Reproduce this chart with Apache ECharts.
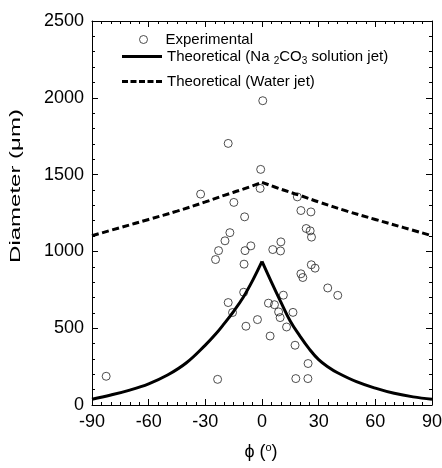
<!DOCTYPE html>
<html>
<head>
<meta charset="utf-8">
<script src="https://cdn.jsdelivr.net/npm/echarts@6/dist/echarts.min.js"></script>
<style>
  html, body { margin: 0; padding: 0; background: #fff; }
  #chart { width: 442px; height: 468px; }
</style>
</head>
<body>
<div id="chart"></div>
<script>
// Measured droplet diameters vs. angle
const expPhi = [-82.5, -32.5, -24.6, -23.0, -23.5, -19.6, -17.9, -17.9, -17.0, -15.6, -14.9, -9.7,
  -9.5, -9.2, -9.0, -8.5, -5.9, -2.4, -1.0, -0.7, 0.4, 3.4, 4.3, 5.7, 6.6, 8.8, 9.6, 9.8, 10.0,
  11.3, 13.0, 16.4, 17.5, 17.9, 18.7, 20.6, 20.6, 21.6, 23.4, 24.3, 24.4, 25.5, 25.9, 26.1, 26.2,
  28.1, 34.8, 40.1];
const expDiameter = [187, 1373, 947, 1005, 167, 1069, 1703, 667, 1122, 602, 1319, 734,
  917, 1225, 1005, 513, 1036, 556, 1410, 1534, 1981, 663, 449, 1012, 653, 606, 569, 1003, 1062,
  715, 508, 603, 389, 172, 1355, 1266, 854, 830, 1149, 172, 270, 1134, 1257, 913, 1093,
  891, 762, 714];

// Theoretical curve, Na2CO3 solution jet (two branches meeting at the cusp)
const naPhiLeft = [-90, -80, -70, -60, -50, -40, -30, -25, -20, -15, -10, -5, 0];
const naLeft = [38, 65, 97, 138, 195, 275, 390, 455, 530, 610, 700, 810, 935];
const naPhiRight = [0, 5, 10, 15, 20, 25, 30, 35, 40, 50, 60, 70, 80, 90];
const naRight = [935, 800, 670, 545, 450, 365, 295, 248, 210, 152, 110, 76, 53, 38];

// Theoretical curve, water jet
const waterPhiLeft = [-90, -75, -60, -45, -30, -20, -10, 0];
const waterLeft = [1102, 1155, 1208, 1262, 1322, 1365, 1405, 1450];
const waterPhiRight = [0, 10, 20, 30, 45, 60, 75, 90];
const waterRight = [1450, 1405, 1365, 1322, 1262, 1208, 1155, 1102];

// Axis ranges and tick spacing
const xTicks = { min: -90, max: 90, step: 30, minorSplit: 6 };
const yTicks = { min: 0, max: 2500, step: 500, minorSplit: 5 };

const FONT = 'Liberation Sans, Arial, Helvetica, sans-serif';
const NA_NAME = 'Theoretical (Na2CO3 solution jet)';
const WATER_NAME = 'Theoretical (Water jet)';
const EXP_NAME = 'Experimental';

const zip = (xs, ys) => xs.map((x, i) => [x, ys[i]]);

// Frame axis: all four sides carry inward major and minor ticks
function frameAxis(kind, position, showLabels) {
  const t = kind === 'x' ? xTicks : yTicks;
  return {
    type: 'value', position: position, z: 10,
    min: t.min, max: t.max, interval: t.step,
    axisLine: { show: true, onZero: false, lineStyle: { color: '#000', width: 1 } },
    axisTick: { show: true, inside: true, length: 6, lineStyle: { color: '#000', width: 1 } },
    minorTick: { show: true, splitNumber: t.minorSplit, length: 3, lineStyle: { color: '#000', width: 1 } },
    splitLine: { show: false },
    axisLabel: {
      show: showLabels, color: '#000', fontFamily: FONT, fontSize: 18,
      formatter: v => String(v)
    }
  };
}

const chart = echarts.init(document.getElementById('chart'));

const textBase = {
  color: '#000', fontFamily: FONT, fontSize: 15,
  rich: { sub: { fontFamily: FONT, fontSize: 10, color: '#000', padding: [9, 0, 0, 0] } }
};
const legendBase = {
  orient: 'vertical', padding: 0, itemWidth: 40, itemHeight: 3,
  textStyle: textBase,
  formatter: function (name) {
    return name === NA_NAME ? 'Theoretical (Na {sub|2}CO{sub|3} solution jet)' : name;
  }
};

const SOLID_ICON = 'path://M0,0H40V3H0Z';
const DASH_ICON = 'path://M0,0h6v3h-6z M8.5,0h6v3h-6z M17,0h6v3h-6z M25.5,0h6v3h-6z M34,0h6v3h-6z';

const option = {
  animation: false,
  grid: { left: 92, right: 10, top: 21, bottom: 63, outerBoundsMode: 'none' },
  xAxis: [frameAxis('x', 'bottom', true), frameAxis('x', 'top', false)],
  yAxis: [frameAxis('y', 'left', true), frameAxis('y', 'right', false)],
  legend: [
    Object.assign({}, legendBase, {
      left: 139, top: 32, itemWidth: 8, itemHeight: 8,
      textStyle: Object.assign({}, textBase, { padding: [0, 0, 0, 13] }),
      data: [{ name: EXP_NAME, icon: 'circle',
               itemStyle: { color: 'rgba(0,0,0,0)', borderColor: '#222', borderWidth: 1 } }]
    }),
    Object.assign({}, legendBase, { left: 122, top: 49,
      data: [{ name: NA_NAME, icon: SOLID_ICON, itemStyle: { color: '#000' } }] }),
    Object.assign({}, legendBase, { left: 122, top: 74,
      data: [{ name: WATER_NAME, icon: DASH_ICON, itemStyle: { color: '#000' } }] })
  ],
  graphic: [
    {
      // y-axis title, drawn stretched along its length
      type: 'text', x: 16, y: 186, rotation: Math.PI / 2, scaleX: 1.6,
      style: { text: 'Diameter (μm)', font: '15px ' + FONT, fill: '#000',
               align: 'center', verticalAlign: 'middle' }
    },
    {
      // x-axis title
      type: 'text', x: 261, y: 452,
      style: {
        text: 'ϕ ({sup|o})', font: '18px ' + FONT, fill: '#000',
        align: 'center', verticalAlign: 'middle',
        rich: { sup: { fontFamily: FONT, fontSize: 11, fill: '#000', padding: [0, 0, 9, 0] } }
      }
    }
  ],
  series: [
    { name: NA_NAME, type: 'line', smooth: 0.4, symbol: 'none', data: zip(naPhiLeft, naLeft),
      lineStyle: { color: '#000', width: 3 }, itemStyle: { color: '#000' } },
    { name: NA_NAME, type: 'line', smooth: 0.4, symbol: 'none', data: zip(naPhiRight, naRight),
      lineStyle: { color: '#000', width: 3 }, itemStyle: { color: '#000' } },
    { name: WATER_NAME, type: 'line', smooth: 0.4, symbol: 'none', data: zip(waterPhiLeft, waterLeft),
      lineStyle: { color: '#000', width: 3, type: [7, 3.5] }, itemStyle: { color: '#000' } },
    { name: WATER_NAME, type: 'line', smooth: 0.4, symbol: 'none', data: zip(waterPhiRight, waterRight),
      lineStyle: { color: '#000', width: 3, type: [7, 3.5] }, itemStyle: { color: '#000' } },
    { name: EXP_NAME, type: 'scatter', symbol: 'circle', symbolSize: 8,
      data: zip(expPhi, expDiameter),
      itemStyle: { color: 'rgba(0,0,0,0)', borderColor: '#222', borderWidth: 1 } }
  ]
};

chart.setOption(option);

// Keep the axis lines and tick marks painted above everything else
function raiseAxisStrokes() {
  const zr = chart.getZr();
  let changed = false;
  function visit(el) {
    if (el.type === 'line' && !el.__raised) {
      el.__raised = true;
      el.ignore = false;
      el.invisible = false;
      el.z = 100;
      el.z2 = 100;
      if (el.removeClipPath) el.removeClipPath();
      el.setStyle({ stroke: '#000', lineWidth: 1, opacity: 1, lineDash: null });
      for (let p = el.parent; p; p = p.parent) p.ignore = false;
      el.markRedraw();
      changed = true;
    }
    if (el.isGroup) el.children().forEach(visit);
  }
  zr.storage.getRoots().forEach(visit);
  if (changed) zr.refreshImmediately();
}
raiseAxisStrokes();
chart.on('finished', raiseAxisStrokes);
</script>
</body>
</html>
